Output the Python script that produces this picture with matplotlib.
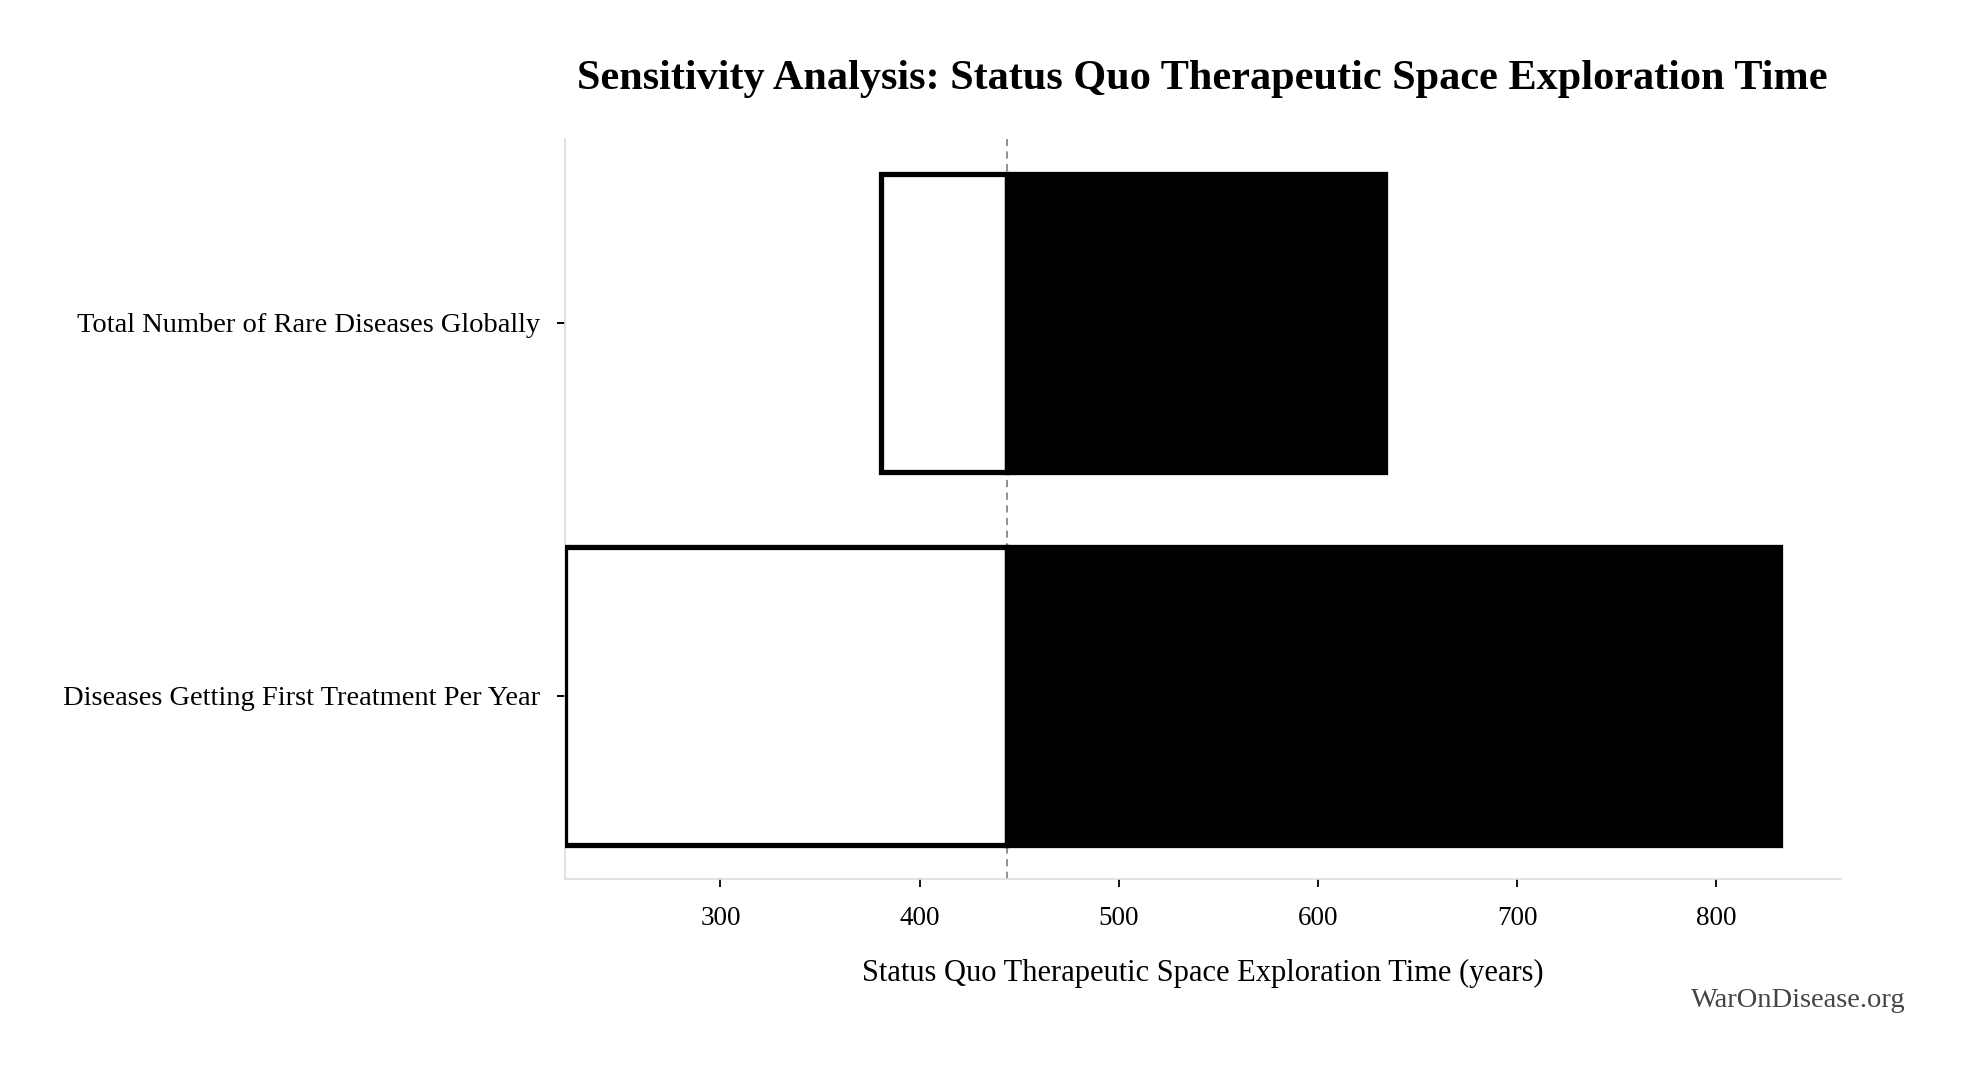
import matplotlib
matplotlib.use("Agg")
import matplotlib.pyplot as plt

# data
params = ["Diseases Getting First Treatment Per Year",
          "Total Number of Rare Diseases Globally"]
low_vals = [221.8, 380.7]
high_vals = [832.2, 633.6]
baseline = 444.0
x_ticks = [300, 400, 500, 600, 700, 800]

plt.rcParams['font.family'] = ['Liberation Serif', 'DejaVu Serif']

fig = plt.figure(figsize=(19.65, 10.71), dpi=100)
ax = fig.add_axes([0.2874, 0.1796, 0.6493, 0.6906])

ypos = list(range(len(params)))
# low side (white) and high side (black), both from the baseline
ax.barh(ypos, [lo - baseline for lo in low_vals], left=baseline, height=0.8,
        color="white", edgecolor="black", linewidth=3.8, zorder=3)
ax.barh(ypos, [hi - baseline for hi in high_vals], left=baseline, height=0.8,
        color="black", edgecolor="black", linewidth=3.8, zorder=3)
ax.axvline(baseline, color="#888888", linestyle=(0, (4, 3)), linewidth=1.3, zorder=1)

ax.set_xlim(221.8, 862.4)
ax.set_ylim(-0.49, 1.493)
ax.set_xticks(x_ticks)
ax.set_yticks(ypos)
ax.set_yticklabels(params)

for s in ["top", "right"]:
    ax.spines[s].set_visible(False)
for s in ["left", "bottom"]:
    ax.spines[s].set_color("#dddddd")
    ax.spines[s].set_linewidth(1.2)

ax.tick_params(axis="x", length=6, width=1.3, pad=14, labelsize=19.5, color="black")
ax.tick_params(axis="y", length=6, width=1.4, pad=12, labelsize=20.5, color="black")

ax.set_xlabel("Status Quo Therapeutic Space Exploration Time (years)",
              fontsize=22, labelpad=20)
ax.set_title("Sensitivity Analysis: Status Quo Therapeutic Space Exploration Time",
             fontsize=30.4, fontweight="bold", pad=36)

fig.text(0.970, 0.06, "WarOnDisease.org", ha="right", va="baseline",
         fontsize=20.5, color="#444444")

fig.savefig("out.png", dpi=100, facecolor="white")
